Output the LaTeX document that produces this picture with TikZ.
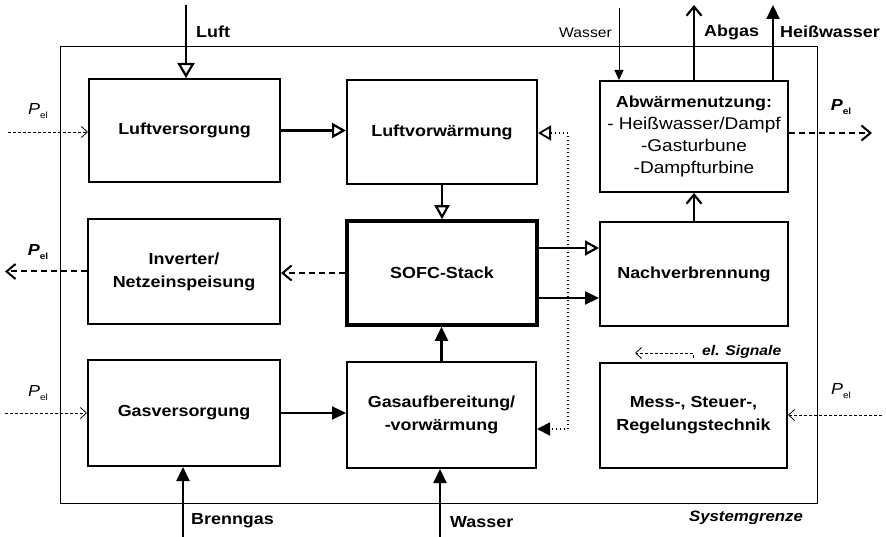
\documentclass[tikz,border=0pt]{standalone}
\usepackage{fontspec}
\setmainfont{Liberation Sans}[FakeStretch=1.12]
\usetikzlibrary{arrows.meta}
\newcommand\pel{\textit{P}\raisebox{-0.45ex}{\fontsize{9}{9}\selectfont el}}
\tikzset{
  box/.style={draw, line width=2pt, align=center, inner sep=0pt,
    font=\fontsize{16}{23}\selectfont\bfseries},
  flow/.style={line width=2.2pt},
  openT/.tip={Triangle[open,length=14pt,width=15pt]},
  fillT/.tip={Triangle[length=14pt,width=13pt]},
  barb/.tip={Straight Barb[length=9pt,width=15pt]},
  barbthin/.tip={Straight Barb[length=6pt,width=11pt,line width=0.8pt]},
  dashthick/.style={line width=2pt, dash pattern=on 6pt off 4pt},
  dashthin/.style={line width=0.8pt, dash pattern=on 3pt off 2pt},
  dotline/.style={line width=1.8pt, dash pattern=on 1.2pt off 2.8pt},
  lbl/.style={inner sep=0pt, font=\fontsize{16}{19}\selectfont}
}
\begin{document}
\begin{tikzpicture}[x=1pt,y=-1pt]
\useasboundingbox (0,0) rectangle (886,537);
\draw[line width=1pt] (60,47) rectangle (817,503);

% boxes
\node[box, minimum width=191pt, minimum height=103pt] (lv) at (184.5,130.5) {Luftversorgung};
\node[box, minimum width=190pt, minimum height=104pt] (lvw) at (442,132) {Luftvorwärmung};
\node[box, minimum width=188pt, minimum height=111pt, font=\fontsize{17}{22}\selectfont] (ab) at (694,136.5)
  {{\fontsize{16}{22}\selectfont\bfseries Abwärmenutzung:}\\- Heißwasser/Dampf\\-Gasturbune\\-Dampfturbine};
\node[box, minimum width=192pt, minimum height=105pt] (inv) at (184,271.5) {Inverter/\\Netzeinspeisung};
\node[box, line width=3.5pt, minimum width=190pt, minimum height=104pt] (sofc) at (442,273) {SOFC-Stack};
\node[box, minimum width=188pt, minimum height=104pt] (nv) at (694,274) {Nachverbrennung};
\node[box, minimum width=192pt, minimum height=106pt] (gv) at (184,413) {Gasversorgung};
\node[box, minimum width=189pt, minimum height=106pt] (ga) at (441.5,415) {Gasaufbereitung/\\-vorwärmung};
\node[box, minimum width=187pt, minimum height=105pt] (ms) at (693.5,415.5) {Mess-, Steuer-,\\Regelungstechnik};

% free ends
\coordinate (luftin) at (186,5);
\coordinate (brin) at (183,537);
\coordinate (wain) at (440,537);
\coordinate (abgas) at (695,5);
\coordinate (hw) at (773,5);
\coordinate (wtop) at (619,8);
\coordinate (pelR) at (872,133);
\coordinate (pelInv) at (5,271);
\coordinate (pelLv) at (8,132);
\coordinate (pelGv) at (5,413);
\coordinate (pelMs) at (882,415);
\coordinate (sigA) at (693,353);
\coordinate (sigB) at (635,353);
\coordinate (sigC) at (693,358);
\coordinate (dTop) at (568,133);
\coordinate (dBot) at (568,429);
\coordinate (yA) at (0,248);
\coordinate (yB) at (0,298);

% material flows
\draw[flow, -{Triangle[open,length=15pt,width=17pt]}] (luftin) -- (luftin |- lv.north);
\draw[flow, -openT] (lv.east) -- (lv.east -| lvw.west);
\draw[flow, -openT] (lvw.south) -- (sofc.north);
\draw[flow, -fillT] (ga.north) -- (ga.north |- sofc.south);
\draw[flow, -fillT] (gv.east) -- (gv.east -| ga.west);
\draw[flow, -fillT] (brin) -- (brin |- gv.south);
\draw[flow, -fillT] (wain) -- (wain |- ga.south);
\draw[flow, -openT] (sofc.east |- yA) -- (nv.west |- yA);
\draw[flow, -fillT] (sofc.east |- yB) -- (nv.west |- yB);
\draw[flow, -barb] (nv.north) -- (ab.south);
\draw[flow, -barb] (ab.north) -- (ab.north |- abgas);
\draw[flow, -fillT] (hw |- ab.north) -- (hw);
\draw[line width=1pt, -{Triangle[length=10pt,width=9pt]}] (wtop) -- (wtop |- ab.north);

% electric
\draw[dashthick, -barb] (ab.east |- pelR) -- (pelR);
\draw[dashthick, -barb] (sofc.west) -- (sofc.west -| inv.east);
\draw[dashthick, -barb] (inv.west) -- (inv.west -| pelInv);
\draw[dashthin, -barbthin] (pelLv) -- (pelLv -| lv.west);
\draw[dashthin, -barbthin] (pelGv) -- (pelGv -| gv.west);
\draw[dashthin, -barbthin] (pelMs) -- (pelMs -| ms.east);
\draw[dashthin, -barbthin] (sigC) -- (sigA) -- (sigB);

% heat feedback (dotted)
\draw[dotline, {Triangle[open,length=13pt,width=15pt]}-{Triangle[length=13pt,width=13pt]}]
  (lvw.east |- dTop) -- (dTop) -- (dBot) -- (ga.east |- dBot);

% labels
\node[lbl, anchor=west] (tLuft) at (196,32) {\textbf{Luft}};
\node[lbl, anchor=west] (tAbgas) at (704,32) {\textbf{Abgas}};
\node[lbl, anchor=west] (tHw) at (780,32) {\textbf{Heißwasser}};
\node[lbl, anchor=east, font=\fontsize{14}{16}\selectfont] (tWas) at (612,33) {Wasser};
\node[lbl, anchor=west] (tBg) at (191,521) {\textbf{Brenngas}};
\node[lbl, anchor=west] (tWb) at (450,522) {\textbf{Wasser}};
\node[lbl, font=\fontsize{15}{17}\selectfont] (tSys) at (746,518) {\textbf{\textit{Systemgrenze}}};
\node[lbl, anchor=west, font=\fontsize{14}{16}\selectfont] (tSig) at (702,352) {\textbf{\textit{el. Signale}}};
\node[lbl] (p1) at (38,111) {\pel};
\node[lbl] (p2) at (38,252) {\textbf{\pel}};
\node[lbl] (p3) at (38,393) {\pel};
\node[lbl] (p4) at (841,391) {\pel};
\node[lbl] (p5) at (841,107) {\textbf{\pel}};
\end{tikzpicture}
\end{document}
